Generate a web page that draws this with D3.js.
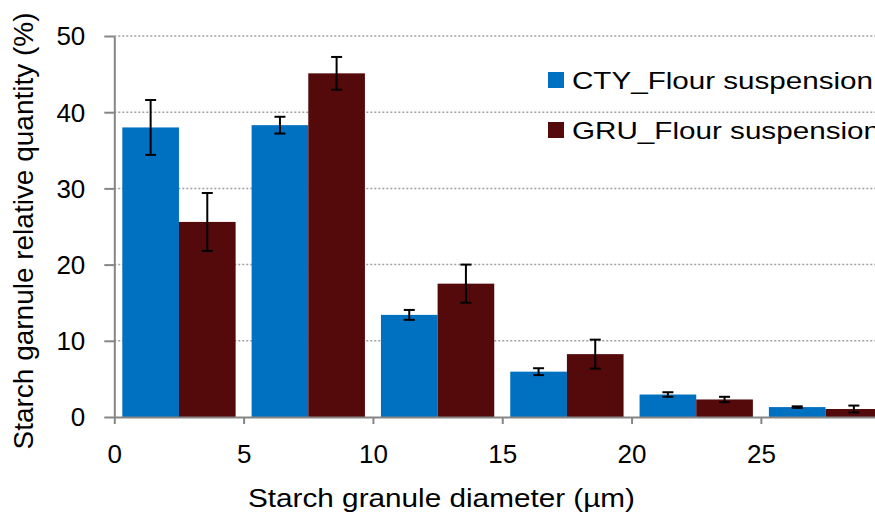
<!DOCTYPE html>
<html>
<head>
<meta charset="utf-8">
<script src="https://cdn.jsdelivr.net/npm/d3@7"></script>
<style>
  body { margin: 0; background: #fff; }
  svg { display: block; font-family: "Liberation Sans", Arial, sans-serif; }
</style>
</head>
<body>
<script>
// bins (lower edge of each 5 µm class)
var bins = [0, 5, 10, 15, 20, 25]
var ctyVals = [38.0, 38.3, 13.4, 5.95, 2.95, 1.3]
var ctyErr = [3.6, 1.1, 0.65, 0.45, 0.3, 0.1]
var gruVals = [25.6, 45.1, 17.5, 8.25, 2.3, 1.05]
var gruErr = [3.8, 2.15, 2.5, 1.9, 0.35, 0.45]
var yTicks = [0, 10, 20, 30, 40, 50]
var xTicks = [0, 5, 10, 15, 20, 25]
var seriesNames = ['CTY_Flour suspension', 'GRU_Flour suspension']
var colors = ['#0070c0', '#540a0b']

var width = 875, height = 516

var svg = d3.select('body').append('svg')
  .attr('width', width)
  .attr('height', height)

var x = d3.scaleLinear().domain([0, 30]).range([114.3, 890.2])
var y = d3.scaleLinear().domain([0, 50]).range([417, 36])

// gridlines
svg.append('g')
  .selectAll('line')
  .data(yTicks.filter(function (d) { return d > 0 }))
  .enter().append('line')
    .attr('x1', x(0))
    .attr('x2', width)
    .attr('y1', function (d) { return y(d) })
    .attr('y2', function (d) { return y(d) })
    .attr('stroke', '#a0a0a0')
    .attr('stroke-width', 1.5)
    .attr('stroke-dasharray', '2,2')

var pad = 8
var binW = x(5) - x(0)
var barW = (binW - 2 * pad) / 2

var series = [
  { name: seriesNames[0], vals: ctyVals, err: ctyErr, color: colors[0], off: 0 },
  { name: seriesNames[1], vals: gruVals, err: gruErr, color: colors[1], off: 1 }
]

series.forEach(function (s) {
  var rows = bins.map(function (b, i) { return { b: b, v: s.vals[i], e: s.err[i] } })
  svg.append('g')
    .selectAll('rect')
    .data(rows)
    .enter().append('rect')
      .attr('x', function (d) { return x(d.b) + pad + s.off * barW })
      .attr('width', barW)
      .attr('y', function (d) { return y(d.v) })
      .attr('height', function (d) { return y(0) - y(d.v) })
      .attr('fill', s.color)
  s.rows = rows
})

// axes
var yAxis = svg.append('g')
  .attr('transform', 'translate(' + x(0) + ',0)')
  .call(d3.axisLeft(y).tickValues(yTicks).tickSize(10).tickSizeOuter(0).tickPadding(19))
var xAxis = svg.append('g')
  .attr('transform', 'translate(0,' + y(0) + ')')
  .call(d3.axisBottom(x).tickValues(xTicks).tickSize(7).tickSizeOuter(0).tickPadding(21))

;[yAxis, xAxis].forEach(function (a) {
  a.select('.domain').attr('stroke', '#868686').attr('stroke-width', 2)
  a.selectAll('.tick line').attr('stroke', '#868686').attr('stroke-width', 2)
  a.selectAll('.tick text')
    .attr('fill', '#000')
    .style('font-size', '26px')
    .style('font-family', '"Liberation Sans", Arial, sans-serif')
})
yAxis.selectAll('.tick text').attr('dy', '0.34em')

// error bars
series.forEach(function (s) {
  var g = svg.append('g').attr('stroke', '#000').attr('stroke-width', 2)
  var cx = function (d) { return x(d.b) + pad + s.off * barW + barW / 2 }
  g.selectAll('.v').data(s.rows).enter().append('line')
    .attr('x1', cx).attr('x2', cx)
    .attr('y1', function (d) { return y(d.v + d.e) })
    .attr('y2', function (d) { return y(d.v - d.e) })
  ;['top', 'bot'].forEach(function (k) {
    g.selectAll('.' + k).data(s.rows).enter().append('line')
      .attr('x1', function (d) { return cx(d) - 5.5 })
      .attr('x2', function (d) { return cx(d) + 5.5 })
      .attr('y1', function (d) { return y(k === 'top' ? d.v + d.e : d.v - d.e) })
      .attr('y2', function (d) { return y(k === 'top' ? d.v + d.e : d.v - d.e) })
  })
})

// legend
var leg = svg.append('g')
series.forEach(function (s, i) {
  var ly = 80 + i * 50
  leg.append('rect')
    .attr('x', 548).attr('y', ly - 8)
    .attr('width', 16).attr('height', 16)
    .attr('fill', s.color)
  leg.append('text')
    .attr('x', 572).attr('y', ly + 9)
    .attr('textLength', i === 0 ? 301 : 308)
    .attr('lengthAdjust', 'spacingAndGlyphs')
    .style('font-size', '24px')
    .text(s.name)
})

// axis titles
svg.append('text')
  .attr('x', 441.5).attr('y', 507)
  .attr('text-anchor', 'middle')
  .attr('textLength', 387)
  .attr('lengthAdjust', 'spacingAndGlyphs')
  .style('font-size', '26px')
  .text('Starch granule diameter (µm)')

svg.append('text')
  .attr('transform', 'translate(33,231) rotate(-90)')
  .attr('text-anchor', 'middle')
  .attr('textLength', 437)
  .attr('lengthAdjust', 'spacingAndGlyphs')
  .style('font-size', '27px')
  .text('Starch garnule relative quantity (%)')
</script>
</body>
</html>
